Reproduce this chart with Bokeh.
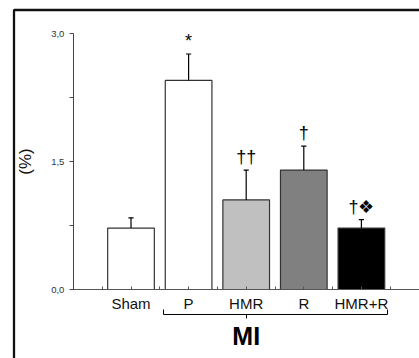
from bokeh.plotting import figure
from bokeh.models import LinearAxis, FixedTicker, Range1d
from bokeh.core.properties import value
from bokeh.embed import file_html
from bokeh.resources import INLINE

groups = ["Sham", "P", "HMR", "R", "HMR+R"]
means = [0.72, 2.45, 1.05, 1.40, 0.72]
sems = [0.12, 0.31, 0.35, 0.28, 0.10]
marks = ["", "*", "††", "†", "†❖"]
fills = ["white", "white", "#c0c0c0", "#808080", "black"]
y_ticks = [0.0, 0.75, 1.5, 2.25, 3.0]
y_tick_labels = ["0,0", "", "1,5", "", "3,0"]
mi_label = "MI"
mi_groups = ["P", "HMR", "R", "HMR+R"]

xs = [i + 1 for i in range(len(groups))]
bar_w = 0.81
hi = [m + s for m, s in zip(means, sems)]
cap = 0.045

FONT = "Liberation Sans"
W, H = 419, 358

# layout (pixels): where category 1 sits, spacing, where y=0 / y=3 sit
PX_X1, PX_DX = 130.5, 57.6
PX_Y0, PX_YTOP = 289.0, 33.0
py_per = (PX_Y0 - PX_YTOP) / (y_ticks[-1] - y_ticks[0])


def dx(px):
    return 1 + (px - PX_X1) / PX_DX


def dy(py):
    return (PX_Y0 - py) / py_per


p = figure(width=W, height=H, output_backend="svg", toolbar_location=None,
           x_range=Range1d(dx(0), dx(W)), y_range=Range1d(dy(H), dy(0)),
           x_axis_type=None, y_axis_type=None,
           min_border_left=0, min_border_right=0, min_border_top=0, min_border_bottom=0)
p.grid.visible = False
p.outline_line_color = None
p.background_fill_color = "white"
p.border_fill_color = "white"

# outer frame: left and top edges
p.line(x=[dx(13.5), dx(13.5), dx(W + 5)], y=[dy(H + 5), dy(9.5), dy(9.5)],
       line_color="#111111", line_width=2.3)

# bars
p.vbar(x=xs, top=means, width=bar_w, bottom=0, fill_color=fills,
       line_color="#333333", line_width=1.2)
# error bars (upper only)
p.segment(x0=xs, y0=means, x1=xs, y1=hi, line_color="black", line_width=1.2)
p.segment(x0=[x - cap for x in xs], y0=hi, x1=[x + cap for x in xs], y1=hi,
          line_color="black", line_width=1.2)
# significance marks
p.text(x=xs, y=hi, text=marks, text_align="center", text_baseline="bottom",
       y_offset=-3, text_font=value(FONT), text_font_size="18px", text_color="black")

# y axis
yax = LinearAxis(ticker=FixedTicker(ticks=y_ticks, minor_ticks=[]),
                 bounds=(y_ticks[0], y_ticks[-1]), fixed_location=0)
yax.major_label_overrides = {t: l for t, l in zip(y_ticks, y_tick_labels)}
yax.major_tick_in = 0
yax.major_tick_out = 4
yax.major_label_standoff = 5
yax.major_label_text_font = FONT
yax.major_label_text_font_size = "9.5px"
yax.major_label_text_color = "#333333"
yax.axis_line_color = "#444444"
yax.major_tick_line_color = "#444444"
yax.axis_label = "(%)"
yax.axis_label_text_font = FONT
yax.axis_label_text_font_size = "17px"
yax.axis_label_text_font_style = "normal"
yax.axis_label_text_color = "#111111"
yax.axis_label_standoff = 13
p.add_layout(yax, "left")

# x axis with group labels
half = [x + 0.5 for x in range(0, len(groups) + 1)] + [0, len(groups) + 1]
xax = LinearAxis(ticker=FixedTicker(ticks=xs, minor_ticks=half),
                 bounds=(0, len(groups) + 1), fixed_location=0)
xax.major_label_overrides = {x: g for x, g in zip(xs, groups)}
xax.major_tick_in = 3
xax.major_tick_out = 0
xax.minor_tick_in = 3
xax.minor_tick_out = 0
xax.major_label_standoff = 5
xax.major_label_text_font = FONT
xax.major_label_text_font_size = "15px"
xax.major_label_text_color = "#111111"
xax.axis_line_color = "#555555"
xax.major_tick_line_color = "#555555"
xax.minor_tick_line_color = "#555555"
p.add_layout(xax, "below")

# bracket axis for MI
mi_x = [xs[groups.index(g)] for g in mi_groups]
left_end = mi_x[0] - bar_w / 2 - 0.035
right_end = mi_x[-1] + bar_w / 2 + 0.045
mid = mi_x[1]
bax = LinearAxis(ticker=FixedTicker(ticks=[mid], minor_ticks=[left_end + 0.005, right_end - 0.005]),
                 bounds=(left_end, right_end), fixed_location=dy(313.5))
bax.major_label_overrides = {mid: mi_label}
bax.major_tick_in = 0
bax.major_tick_out = 4
bax.minor_tick_in = 5
bax.minor_tick_out = 0
bax.major_label_standoff = 4
bax.major_label_text_font = FONT
bax.major_label_text_font_size = "25px"
bax.major_label_text_font_style = "bold"
bax.major_label_text_color = "black"
bax.axis_line_color = "black"
bax.major_tick_line_color = "black"
bax.minor_tick_line_color = "black"
p.add_layout(bax, "below")

open("out.html", "w").write(file_html(p, INLINE))
